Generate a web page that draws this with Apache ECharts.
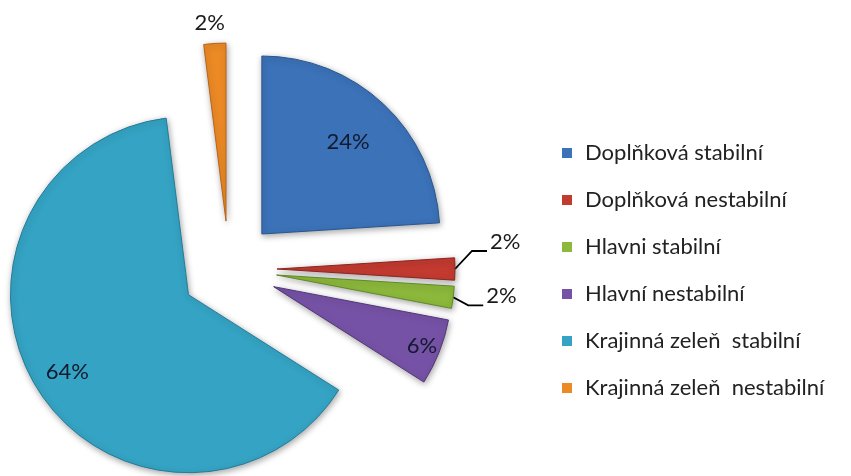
<!DOCTYPE html>
<html><head><meta charset="utf-8">
<script src="https://cdn.jsdelivr.net/npm/echarts@6/dist/echarts.min.js"></script>
<style>html,body{margin:0;padding:0;background:#fff}#c{width:851px;height:476px}</style>
</head><body><div id="c"></div>
<script>
const categories = ['Doplňková stabilní','Doplňková nestabilní','Hlavni stabilní','Hlavní nestabilní','Krajinná zeleň  stabilní','Krajinná zeleň  nestabilní'];
const values = [24, 2, 2, 6, 64, 2];
const colors = ['#3b72b8','#c23a30','#8cb83c','#7652a6','#35a3c4','#ec8a25'];
const borders = ['#2a558f','#8e2520','#5f8a22','#523678','#237d99','#b8631a'];

const CX = 229, CY = 269, R = 178, OFF = 48;
const L1 = 15, L2 = 30;
const labelMode = ['inside','up','down','inside','inside','top'];
const insideFrac = [0.69, 0, 0, 0.88, 0.79, 0];

const total = values.reduce((a,b)=>a+b,0);
function dirOf(i){
  let before = 0; for (let k=0;k<i;k++) before += values[k];
  const a = (before + values[i]/2) / total * Math.PI * 2;
  return [Math.sin(a), -Math.cos(a)];
}

const data = categories.map((name,i)=>({
  name, value: values[i], selected: true,
  itemStyle: {color: colors[i], borderColor: borders[i], borderWidth: 1},
  label: labelMode[i]==='inside' ? {position:'inside', color:'#111a2e'} : {position:'outside', color:'#1a1a1a'},
  labelLine: {show: labelMode[i]==='up' || labelMode[i]==='down', length: L1, length2: L2, lineStyle:{color:'#000', width:1.8}}
}));

function layout(p){
  const i = p.dataIndex, d = dirOf(i);
  if (labelMode[i]==='inside'){
    const s = (insideFrac[i]-0.5)*R;
    return {dx: s*d[0], dy: s*d[1]};
  }
  // local (un-exploded) geometry
  const P = [CX + R*d[0], CY + R*d[1]];
  const sign = d[0] < 0 ? -1 : 1;
  const X2 = [P[0] + L1*d[0], P[1] + L1*d[1]];
  const textX = X2[0] + sign*(L2 + 5), textY = X2[1];
  if (labelMode[i]==='top'){
    return {dx: (P[0]-5) - textX, dy: (P[1]-21) - textY, align:'center'};
  }
  const K = labelMode[i]==='up' ? [P[0]+17, P[1]-18] : [P[0]+15, P[1]+8];
  const E = [K[0]+15, K[1]];
  return {dx: (E[0]+3) - textX, dy: (E[1]-9) - textY, labelLinePoints: [P, K, E]};
}

const chart = echarts.init(document.getElementById('c'));
chart.setOption({
  animation: false,
  backgroundColor: '#fff',
  legend: {
    orient: 'vertical', left: 557, top: 137,
    itemWidth: 10, itemHeight: 10, itemGap: 25, icon: 'rect',
    selectedMode: false,
    itemStyle: {borderWidth: 0},
    textStyle: {fontFamily: 'Lato', fontSize: 22, color: '#222', padding:[0,0,0,8]},
    data: categories
  },
  series: [{
    type: 'pie',
    center: [CX, CY], radius: R,
    startAngle: 90, clockwise: true,
    selectedMode: 'multiple', selectedOffset: OFF,
    avoidLabelOverlap: false,
    label: {show: true, formatter: '{d}%', fontFamily: 'Lato', fontSize: 22},
    itemStyle: {shadowBlur: 6, shadowColor: 'rgba(0,0,0,0.35)', shadowOffsetX: 1, shadowOffsetY: 2},
    emphasis: {disabled: true},
    labelLayout: layout,
    data: data
  }]
});
</script></body></html>
